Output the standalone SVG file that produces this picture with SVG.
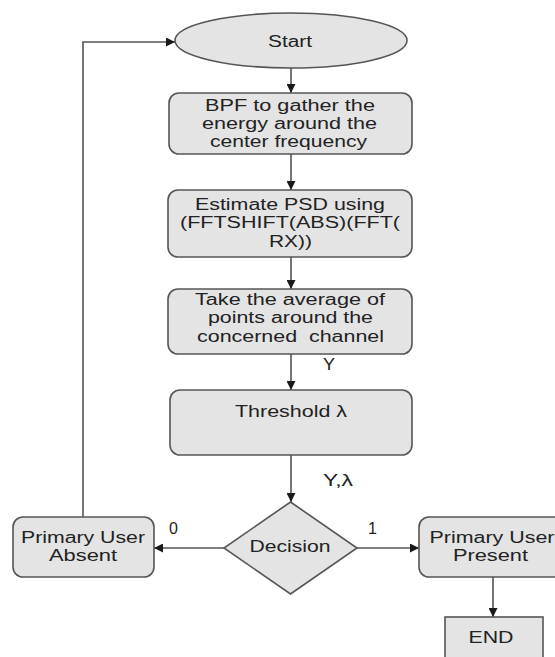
<svg xmlns="http://www.w3.org/2000/svg" width="555" height="657" viewBox="0 0 555 657">
  <style>
    .shape { fill: #e4e4e4; stroke: #555555; stroke-width: 1.6; }
    .lbl { font-family: "Liberation Sans", Arial, sans-serif; font-size: 16px; fill: #222222; }
    .mid { text-anchor: middle; }
    .conn { stroke: #555555; stroke-width: 1.6; fill: none; }
  </style>
  <defs>
    <marker id="arrow" viewBox="0 0 10 10" refX="10" refY="5" markerWidth="9" markerHeight="9" markerUnits="userSpaceOnUse" orient="auto">
      <path d="M0,0 L10,5 L0,10 z" fill="#1a1a1a"/>
    </marker>
  </defs>
  <rect width="555" height="657" fill="#ffffff"/>

  <g id="connectors">
    <line class="conn" x1="291" y1="68" x2="291" y2="93" marker-end="url(#arrow)"/>
    <line class="conn" x1="291" y1="154" x2="291" y2="190" marker-end="url(#arrow)"/>
    <line class="conn" x1="291" y1="257" x2="291" y2="289" marker-end="url(#arrow)"/>
    <line class="conn" x1="291" y1="354" x2="291" y2="390" marker-end="url(#arrow)"/>
    <line class="conn" x1="291" y1="455" x2="291" y2="502" marker-end="url(#arrow)"/>
    <line class="conn" x1="224" y1="548" x2="154" y2="548" marker-end="url(#arrow)"/>
    <line class="conn" x1="357" y1="548" x2="419" y2="548" marker-end="url(#arrow)"/>
    <line class="conn" x1="493" y1="577" x2="493" y2="617" marker-end="url(#arrow)"/>
    <polyline class="conn" points="83,517 83,42 175,42" marker-end="url(#arrow)"/>
    <text class="lbl" x="323" y="370" textLength="12" lengthAdjust="spacingAndGlyphs">Y</text>
    <text class="lbl" x="323" y="486" textLength="30" lengthAdjust="spacingAndGlyphs">Y,λ</text>
    <text class="lbl" x="169" y="534">0</text>
    <text class="lbl" x="368" y="534">1</text>
  </g>

  <g id="start">
    <ellipse class="shape" cx="291" cy="40.5" rx="116" ry="27.5"/>
    <text class="lbl mid" x="290" y="47" textLength="44" lengthAdjust="spacingAndGlyphs">Start</text>
  </g>

  <g id="bpf">
    <rect class="shape" x="169" y="93" width="243" height="61" rx="10"/>
    <text class="lbl mid" x="290" y="111" textLength="170" lengthAdjust="spacingAndGlyphs">BPF to gather the</text>
    <text class="lbl mid" x="289.5" y="129" textLength="175" lengthAdjust="spacingAndGlyphs">energy around the</text>
    <text class="lbl mid" x="288.5" y="147" textLength="157" lengthAdjust="spacingAndGlyphs">center frequency</text>
  </g>

  <g id="estimate">
    <rect class="shape" x="168" y="190" width="244" height="67" rx="10"/>
    <text class="lbl mid" x="290" y="210" textLength="190" lengthAdjust="spacingAndGlyphs">Estimate PSD using</text>
    <text class="lbl mid" x="290" y="228" textLength="220" lengthAdjust="spacingAndGlyphs">(FFTSHIFT(ABS)(FFT(</text>
    <text class="lbl mid" x="290.5" y="247" textLength="43" lengthAdjust="spacingAndGlyphs">RX))</text>
  </g>

  <g id="average">
    <rect class="shape" x="168" y="289" width="244" height="65" rx="10"/>
    <text class="lbl mid" x="290" y="305" textLength="190" lengthAdjust="spacingAndGlyphs">Take the average of</text>
    <text class="lbl mid" x="290.5" y="323" textLength="165" lengthAdjust="spacingAndGlyphs">points around the</text>
    <text class="lbl mid" x="290.5" y="342" textLength="187" lengthAdjust="spacingAndGlyphs" style="white-space:pre">concerned  channel</text>
  </g>

  <g id="threshold">
    <rect class="shape" x="170" y="390" width="242" height="65" rx="10"/>
    <text class="lbl mid" x="291" y="417" textLength="112" lengthAdjust="spacingAndGlyphs">Threshold λ</text>
  </g>

  <g id="decision">
    <polygon class="shape" points="290.5,502 357,548 290.5,594 224,548"/>
    <text class="lbl mid" x="290" y="552" textLength="81" lengthAdjust="spacingAndGlyphs">Decision</text>
  </g>

  <g id="absent">
    <rect class="shape" x="13" y="517" width="141" height="60" rx="10"/>
    <text class="lbl mid" x="83" y="543" textLength="124" lengthAdjust="spacingAndGlyphs">Primary User</text>
    <text class="lbl mid" x="83" y="561" textLength="68" lengthAdjust="spacingAndGlyphs">Absent</text>
  </g>

  <g id="present">
    <rect class="shape" x="419" y="517" width="146" height="60" rx="10"/>
    <text class="lbl mid" x="492" y="543" textLength="125" lengthAdjust="spacingAndGlyphs">Primary User</text>
    <text class="lbl mid" x="490.5" y="561" textLength="75" lengthAdjust="spacingAndGlyphs">Present</text>
  </g>

  <g id="end">
    <rect class="shape" x="445" y="617" width="98" height="60"/>
    <text class="lbl mid" x="491" y="643" textLength="45" lengthAdjust="spacingAndGlyphs">END</text>
  </g>
</svg>
